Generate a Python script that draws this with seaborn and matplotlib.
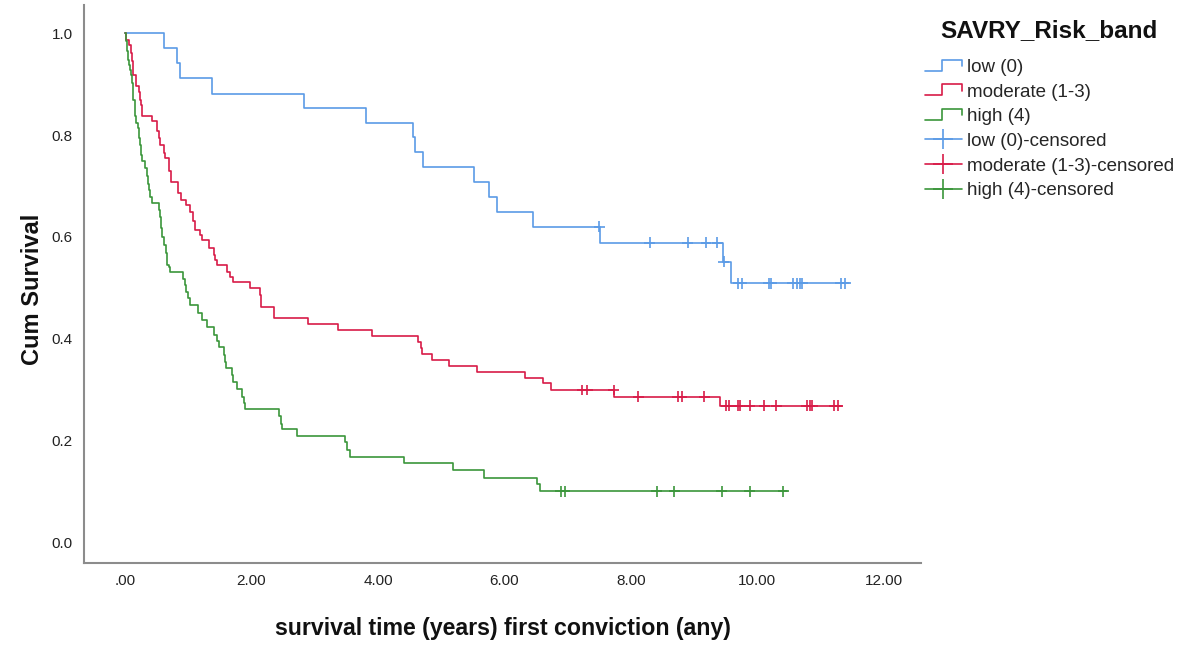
import numpy as np
import pandas as pd
import seaborn as sns
import matplotlib
matplotlib.use("Agg")
import matplotlib.pyplot as plt
from matplotlib.lines import Line2D
from matplotlib.legend_handler import HandlerBase
from matplotlib import font_manager as fm

# ---------------- data ----------------
groups = ["low (0)", "moderate (1-3)", "high (4)"]

low_event_t = [0.62, 0.82, 0.87, 1.37, 2.83, 3.81, 4.56, 4.58, 4.72, 5.52, 5.76, 5.88, 6.46, 7.51, 9.46, 9.59]
low_event_s = [0.971, 0.941, 0.912, 0.882, 0.853, 0.824, 0.796, 0.767, 0.738, 0.708, 0.679, 0.650, 0.620, 0.589, 0.551, 0.509]
low_end = 11.45
low_cens_t = [7.50, 8.30, 8.90, 9.19, 9.37, 9.47, 9.70, 9.76, 10.18, 10.22, 10.56, 10.63, 10.67, 10.71, 11.32, 11.39]

mod_event_t = [0.02, 0.06, 0.09, 0.11, 0.12, 0.13, 0.18, 0.22, 0.24, 0.25, 0.26, 0.27, 0.43, 0.50,
               0.54, 0.55, 0.62, 0.63, 0.69, 0.70, 0.72, 0.83, 0.89, 0.96, 1.03, 1.07, 1.10, 1.19, 1.21,
               1.32, 1.40, 1.42, 1.45, 1.61, 1.66, 1.71, 1.98, 2.14, 2.15, 2.36, 2.89, 3.36, 3.91,
               4.64, 4.68, 4.69, 4.86, 5.13, 5.57, 6.33, 6.61, 6.74, 7.74, 9.41]
mod_event_s = [0.988, 0.978, 0.962, 0.945, 0.929, 0.919, 0.896, 0.885, 0.870, 0.860, 0.850, 0.837, 0.827, 0.808,
               0.794, 0.781, 0.765, 0.755, 0.742, 0.729, 0.709, 0.686, 0.673, 0.663, 0.650, 0.632, 0.614, 0.604, 0.594,
               0.578, 0.564, 0.555, 0.545, 0.532, 0.522, 0.512, 0.499, 0.486, 0.463, 0.441, 0.429, 0.417, 0.405,
               0.394, 0.381, 0.370, 0.358, 0.347, 0.334, 0.323, 0.312, 0.299, 0.286, 0.268]
mod_end = 11.34
mod_cens_t = [7.23, 7.31, 7.73, 8.12, 8.74, 8.81, 9.16, 9.51, 9.56, 9.69, 9.72, 9.88, 10.11, 10.30,
              10.78, 10.83, 10.87, 11.22, 11.27]

high_event_t = [0.02, 0.03, 0.04, 0.06, 0.08, 0.09, 0.11, 0.12, 0.13, 0.15, 0.16, 0.18, 0.21, 0.22, 0.24,
                0.25, 0.27, 0.31, 0.34, 0.36, 0.38, 0.40, 0.42, 0.54, 0.55, 0.57, 0.59, 0.62, 0.64, 0.66,
                0.69, 0.71, 0.92, 0.95, 0.97, 1.00, 1.03, 1.16, 1.21, 1.29, 1.40, 1.45, 1.49, 1.56, 1.58,
                1.60, 1.69, 1.71, 1.77, 1.85, 1.88, 1.90, 2.44, 2.46, 2.48, 2.72, 3.48, 3.51, 3.56, 4.41,
                5.19, 5.67, 6.51, 6.57]
high_event_s = [0.985, 0.965, 0.948, 0.939, 0.929, 0.919, 0.903, 0.886, 0.870, 0.853, 0.837, 0.824, 0.814, 0.795, 0.781,
                0.762, 0.749, 0.735, 0.719, 0.705, 0.692, 0.679, 0.666, 0.653, 0.640, 0.617, 0.600, 0.584, 0.568, 0.545,
                0.541, 0.532, 0.518, 0.505, 0.492, 0.479, 0.466, 0.450, 0.437, 0.423, 0.407, 0.396, 0.384, 0.368, 0.355,
                0.342, 0.328, 0.315, 0.302, 0.286, 0.273, 0.261, 0.248, 0.233, 0.222, 0.208, 0.196, 0.182, 0.168, 0.155,
                0.142, 0.127, 0.115, 0.100]
high_end = 10.47
high_cens_t = [6.89, 6.96, 8.41, 8.69, 9.44, 9.88, 10.41]

colors = ["#5b9be6", "#d81b48", "#3b963b"]

x_ticks = [0, 2, 4, 6, 8, 10, 12]
x_tick_labels = [".00", "2.00", "4.00", "6.00", "8.00", "10.00", "12.00"]
y_ticks = [0.0, 0.2, 0.4, 0.6, 0.8, 1.0]
y_tick_labels = ["0.0", "0.2", "0.4", "0.6", "0.8", "1.0"]

# ---------------- build tidy frames ----------------
series = {
    groups[0]: (low_event_t, low_event_s, low_end, low_cens_t),
    groups[1]: (mod_event_t, mod_event_s, mod_end, mod_cens_t),
    groups[2]: (high_event_t, high_event_s, high_end, high_cens_t),
}
curve_rows, cens_rows = [], []
for g, (et, es, end, ct) in series.items():
    ts = [0.0] + list(et) + [end]
    ss = [1.0] + list(es) + [es[-1]]
    for t, s in zip(ts, ss):
        curve_rows.append({"t": t, "S": s, "band": g})
    et_arr = np.array(et)
    es_arr = np.array(es)
    for c in ct:
        k = np.searchsorted(et_arr, c, side="right")
        s = 1.0 if k == 0 else es_arr[k - 1]
        cens_rows.append({"t": c, "S": s, "band": g})
curves = pd.DataFrame(curve_rows)
cens = pd.DataFrame(cens_rows)

# ---------------- plot ----------------
sns.set_theme(style="white")
avail = {f.name for f in fm.fontManager.ttflist}
base = "Liberation Sans" if "Liberation Sans" in avail else "DejaVu Sans"
narrow = "Liberation Sans Narrow" if "Liberation Sans Narrow" in avail else base
plt.rcParams["font.family"] = [base, "DejaVu Sans"]

fig = plt.figure(figsize=(11.81, 6.46), dpi=100)
ax = fig.add_axes([84 / 1181, 1 - 563 / 646, (921 - 84) / 1181, (563 - 5) / 646])

pal = dict(zip(groups, colors))
sns.lineplot(data=curves, x="t", y="S", hue="band", palette=pal, hue_order=groups,
             estimator=None, drawstyle="steps-post", linewidth=1.2, legend=False, ax=ax, sort=False)
sns.scatterplot(data=cens, x="t", y="S", hue="band", palette=pal, hue_order=groups,
                marker="+", s=60, linewidth=1.2, legend=False, ax=ax, zorder=3)

ax.set_xlim(-0.65, 12.59)
ax.set_ylim(-0.041, 1.056)
ax.set_xticks(x_ticks)
ax.set_xticklabels(x_tick_labels)
ax.set_yticks(y_ticks)
ax.set_yticklabels(y_tick_labels)
ax.tick_params(length=0, pad=8, labelsize=11, labelcolor="#222222")
for lab in ax.get_xticklabels() + ax.get_yticklabels():
    lab.set_fontfamily([narrow, "DejaVu Sans"])

for side in ["top", "right"]:
    ax.spines[side].set_visible(False)
for side in ["left", "bottom"]:
    ax.spines[side].set_color("#8c8c8c")
    ax.spines[side].set_linewidth(1.5)

ax.set_xlabel("survival time (years) first conviction (any)", fontsize=16.7, fontweight="bold", color="#111111")
ax.set_ylabel("Cum Survival", fontsize=17, fontweight="bold", color="#111111")
ax.xaxis.set_label_coords(0.5, -0.097)
ax.yaxis.set_label_coords(-0.048, 0.49)


# ---------------- legend ----------------
class StepHandler(HandlerBase):
    def create_artists(self, legend, orig_handle, xdescent, ydescent, width, height, fontsize, trans):
        x0, y0 = -xdescent, -ydescent
        xs = [x0, x0 + 0.45 * width, x0 + 0.45 * width, x0 + width, x0 + width]
        ys = [y0 + 0.1 * height, y0 + 0.1 * height, y0 + 0.95 * height, y0 + 0.95 * height, y0 + 0.45 * height]
        ln = Line2D(xs, ys, color=orig_handle.get_color(), lw=orig_handle.get_linewidth())
        ln.set_transform(trans)
        return [ln]


step_handles = [Line2D([], [], color=c, lw=1.2) for c in colors]
cens_handles = [Line2D([], [], color=c, lw=1.2, marker="+", markersize=14, markeredgewidth=1.2) for c in colors]
labels = groups + [g + "-censored" for g in groups]
hmap = {h: StepHandler() for h in step_handles}
leg = fig.legend(step_handles + cens_handles, labels, handler_map=hmap,
                 loc="upper left", bbox_to_anchor=(925 / 1181, 1 - 59 / 646),
                 frameon=False, numpoints=1, fontsize=13.5, handlelength=1.97, handletextpad=0.27,
                 labelspacing=0.4, borderpad=0, borderaxespad=0)
fig.text(1049 / 1181, 1 - 31 / 646, "SAVRY_Risk_band", ha="center", va="center",
         fontsize=17.5, fontweight="bold", color="#111111")

fig.savefig("out.png", dpi=100)
